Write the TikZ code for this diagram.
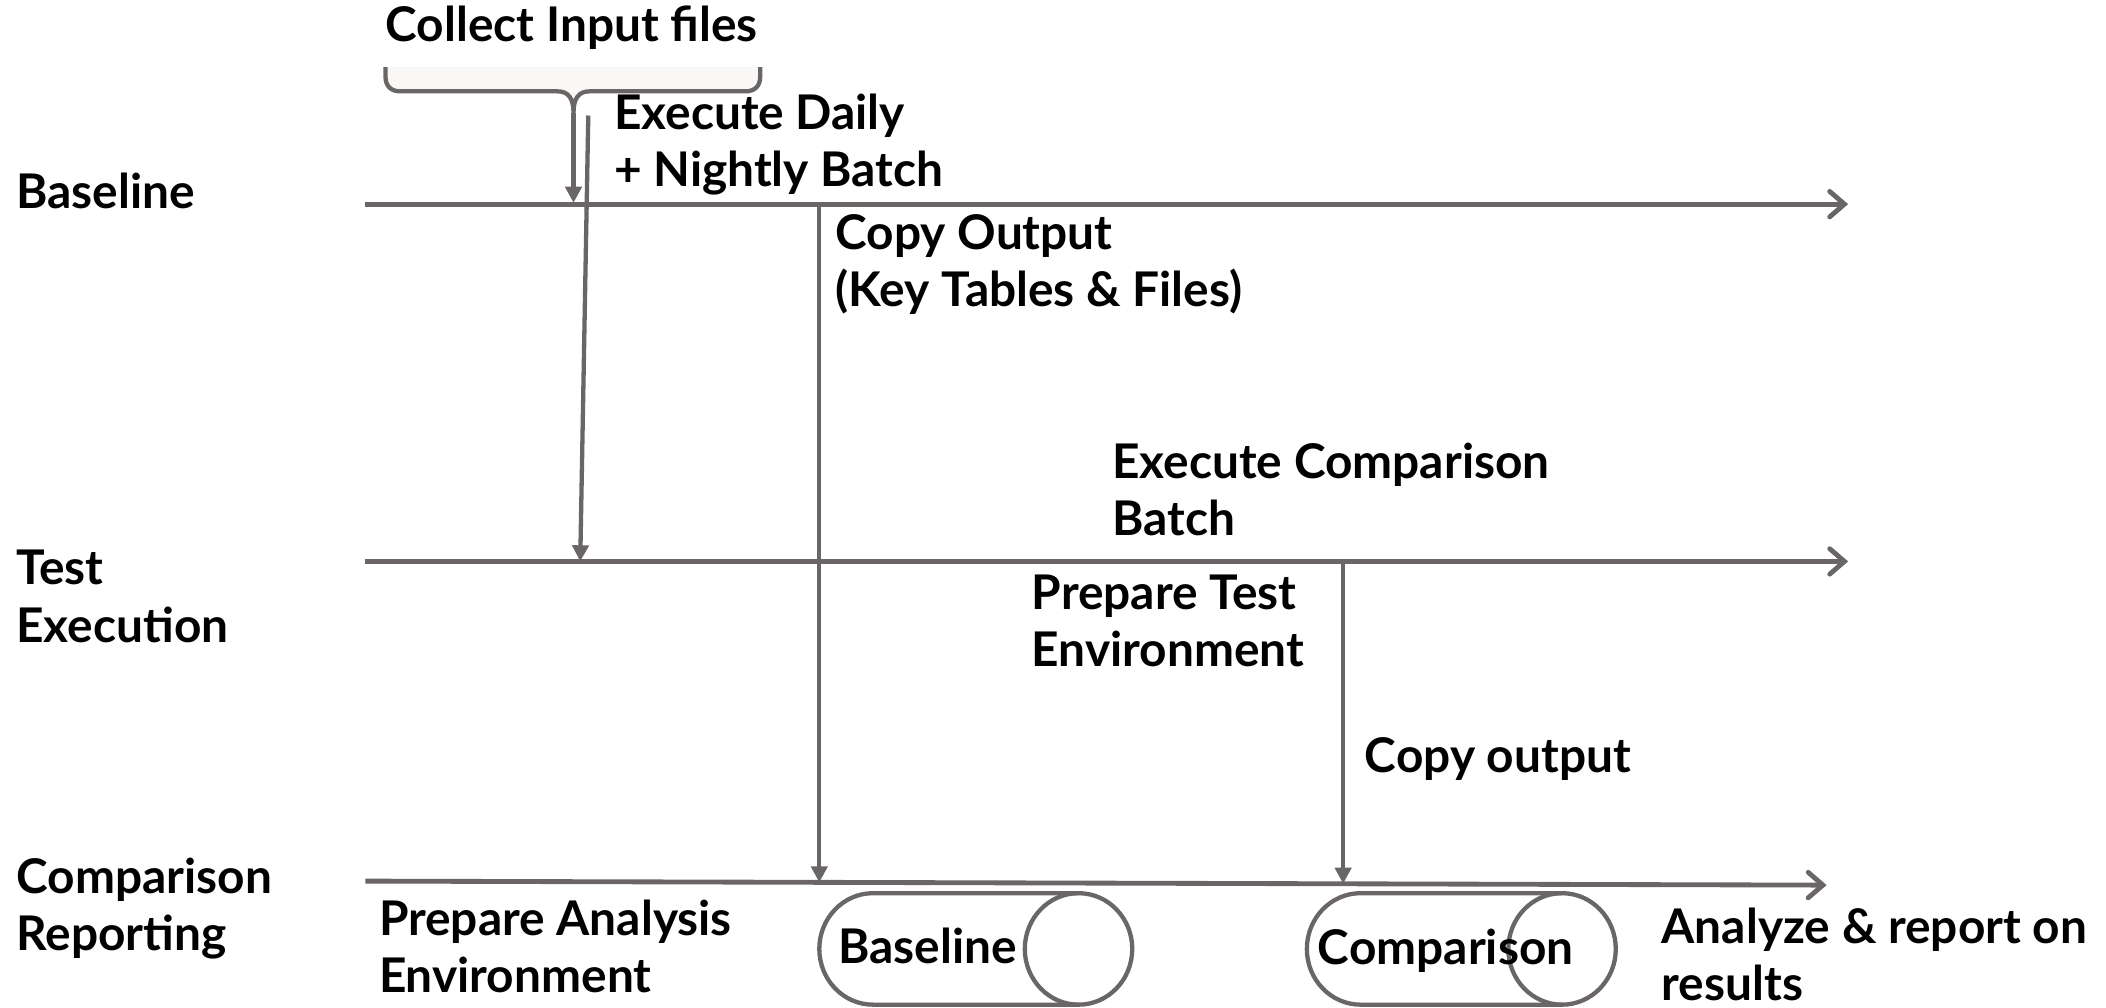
\documentclass[tikz,border=0pt]{standalone}
\usepackage{fontspec}
\setmainfont{Lato}
\usetikzlibrary{arrows.meta}
\definecolor{linegray}{HTML}{6A6666}
\definecolor{bracefill}{HTML}{FAF8F6}
\begin{document}
\begin{tikzpicture}[x=1pt,y=-1pt,
  % base anchor of a multi-line label sits on its last line
  lbl/.style={anchor=base west,align=left,inner sep=0pt,font=\fontsize{35.6}{42.5}\selectfont\bfseries,text=black},
  timeline/.style={draw=linegray,line width=3.6pt,-{Straight Barb[length=11pt,width=19pt,line cap=round]}},
  flow/.style={draw=linegray,line width=3.2pt,-{Triangle[length=12pt,width=12pt]}},
  shapeline/.style={draw=linegray,line width=3.2pt}]
\useasboundingbox (0,0) rectangle (1568,750);

% lane titles
\node[lbl] (lBase) at (12,155) {Baseline};
\node[lbl] (lTest) at (12,478) {Test\\Execution};
\node[lbl] (lComp) at (12,708) {Comparison\\Reporting};

% timelines
\coordinate (b0) at (272,152);  \coordinate (b1) at (1376,152);
\coordinate (t0) at (272,418);  \coordinate (t1) at (1376,418);
\coordinate (c0) at (272,656);  \coordinate (c1) at (1360,659);
\draw[timeline] (b0) -- (b1);
\draw[timeline] (t0) -- (t1);
\draw[timeline] (c0) -- (c1);

% brace under the input files
\node[lbl] (collect) at (287,31) {Collect Input files};
\def\bracepath{(287,50) -- (287,57) .. controls (287,64) and (291,68) .. (298,68) -- (415,68)
  .. controls (423,68) and (427,73) .. (427,84)
  .. controls (427,73) and (431,68) .. (439,68) -- (555,68)
  .. controls (562,68) and (566,64) .. (566,57) -- (566,50)}
\fill[bracefill] \bracepath -- cycle;
\draw[shapeline,line join=round] \bracepath;
\coordinate (braceTip) at (427,84);
\coordinate (braceEnd) at (427,151);
\draw[flow] (braceTip) -- (braceEnd);

% daily and nightly batch
\node[lbl] (daily) at (457,139) {Execute Daily\\+ Nightly Batch};
\coordinate (dTop) at (438,86);
\coordinate (dEnd) at (432,418);
\draw[flow] (dTop) -- (dEnd);

% copy baseline output
\node[lbl] (copyOut) at (622,228) {Copy Output\\(Key Tables \& Files)};
\coordinate (coTop) at (610,152);
\coordinate (coEnd) at (610,657);
\draw[flow] (coTop) -- (coEnd);

% test execution
\node[lbl] (execComp) at (828,399) {Execute Comparison\\Batch};
\node[lbl] (prepTest) at (768,496) {Prepare Test\\Environment};
\node[lbl] (copyOut2) at (1016,575) {Copy output};
\coordinate (cpTop) at (1000,418);
\coordinate (cpEnd) at (1000,658);
\draw[flow] (cpTop) -- (cpEnd);

% comparison reporting
\node[lbl] (prepAna) at (282,739) {Prepare Analysis\\Environment};
\node[lbl] (analyze) at (1237,745) {Analyze \& report on\\results};

% data stores
\draw[shapeline] (803,665) -- (650,665) arc[start angle=90,end angle=270,x radius=40pt,y radius=41.5pt] -- (803,748);
\draw[shapeline] (803,706.5) ellipse[x radius=40pt,y radius=41.5pt];
\node[lbl] (cylBase) at (624,717) {Baseline};

\draw[shapeline] (1163,665) -- (1013,665) arc[start angle=90,end angle=270,x radius=40pt,y radius=41.5pt] -- (1163,748);
\draw[shapeline] (1163,706.5) ellipse[x radius=40pt,y radius=41.5pt];
\node[lbl] (cylComp) at (981,718) {Comparison};
\end{tikzpicture}
\end{document}
